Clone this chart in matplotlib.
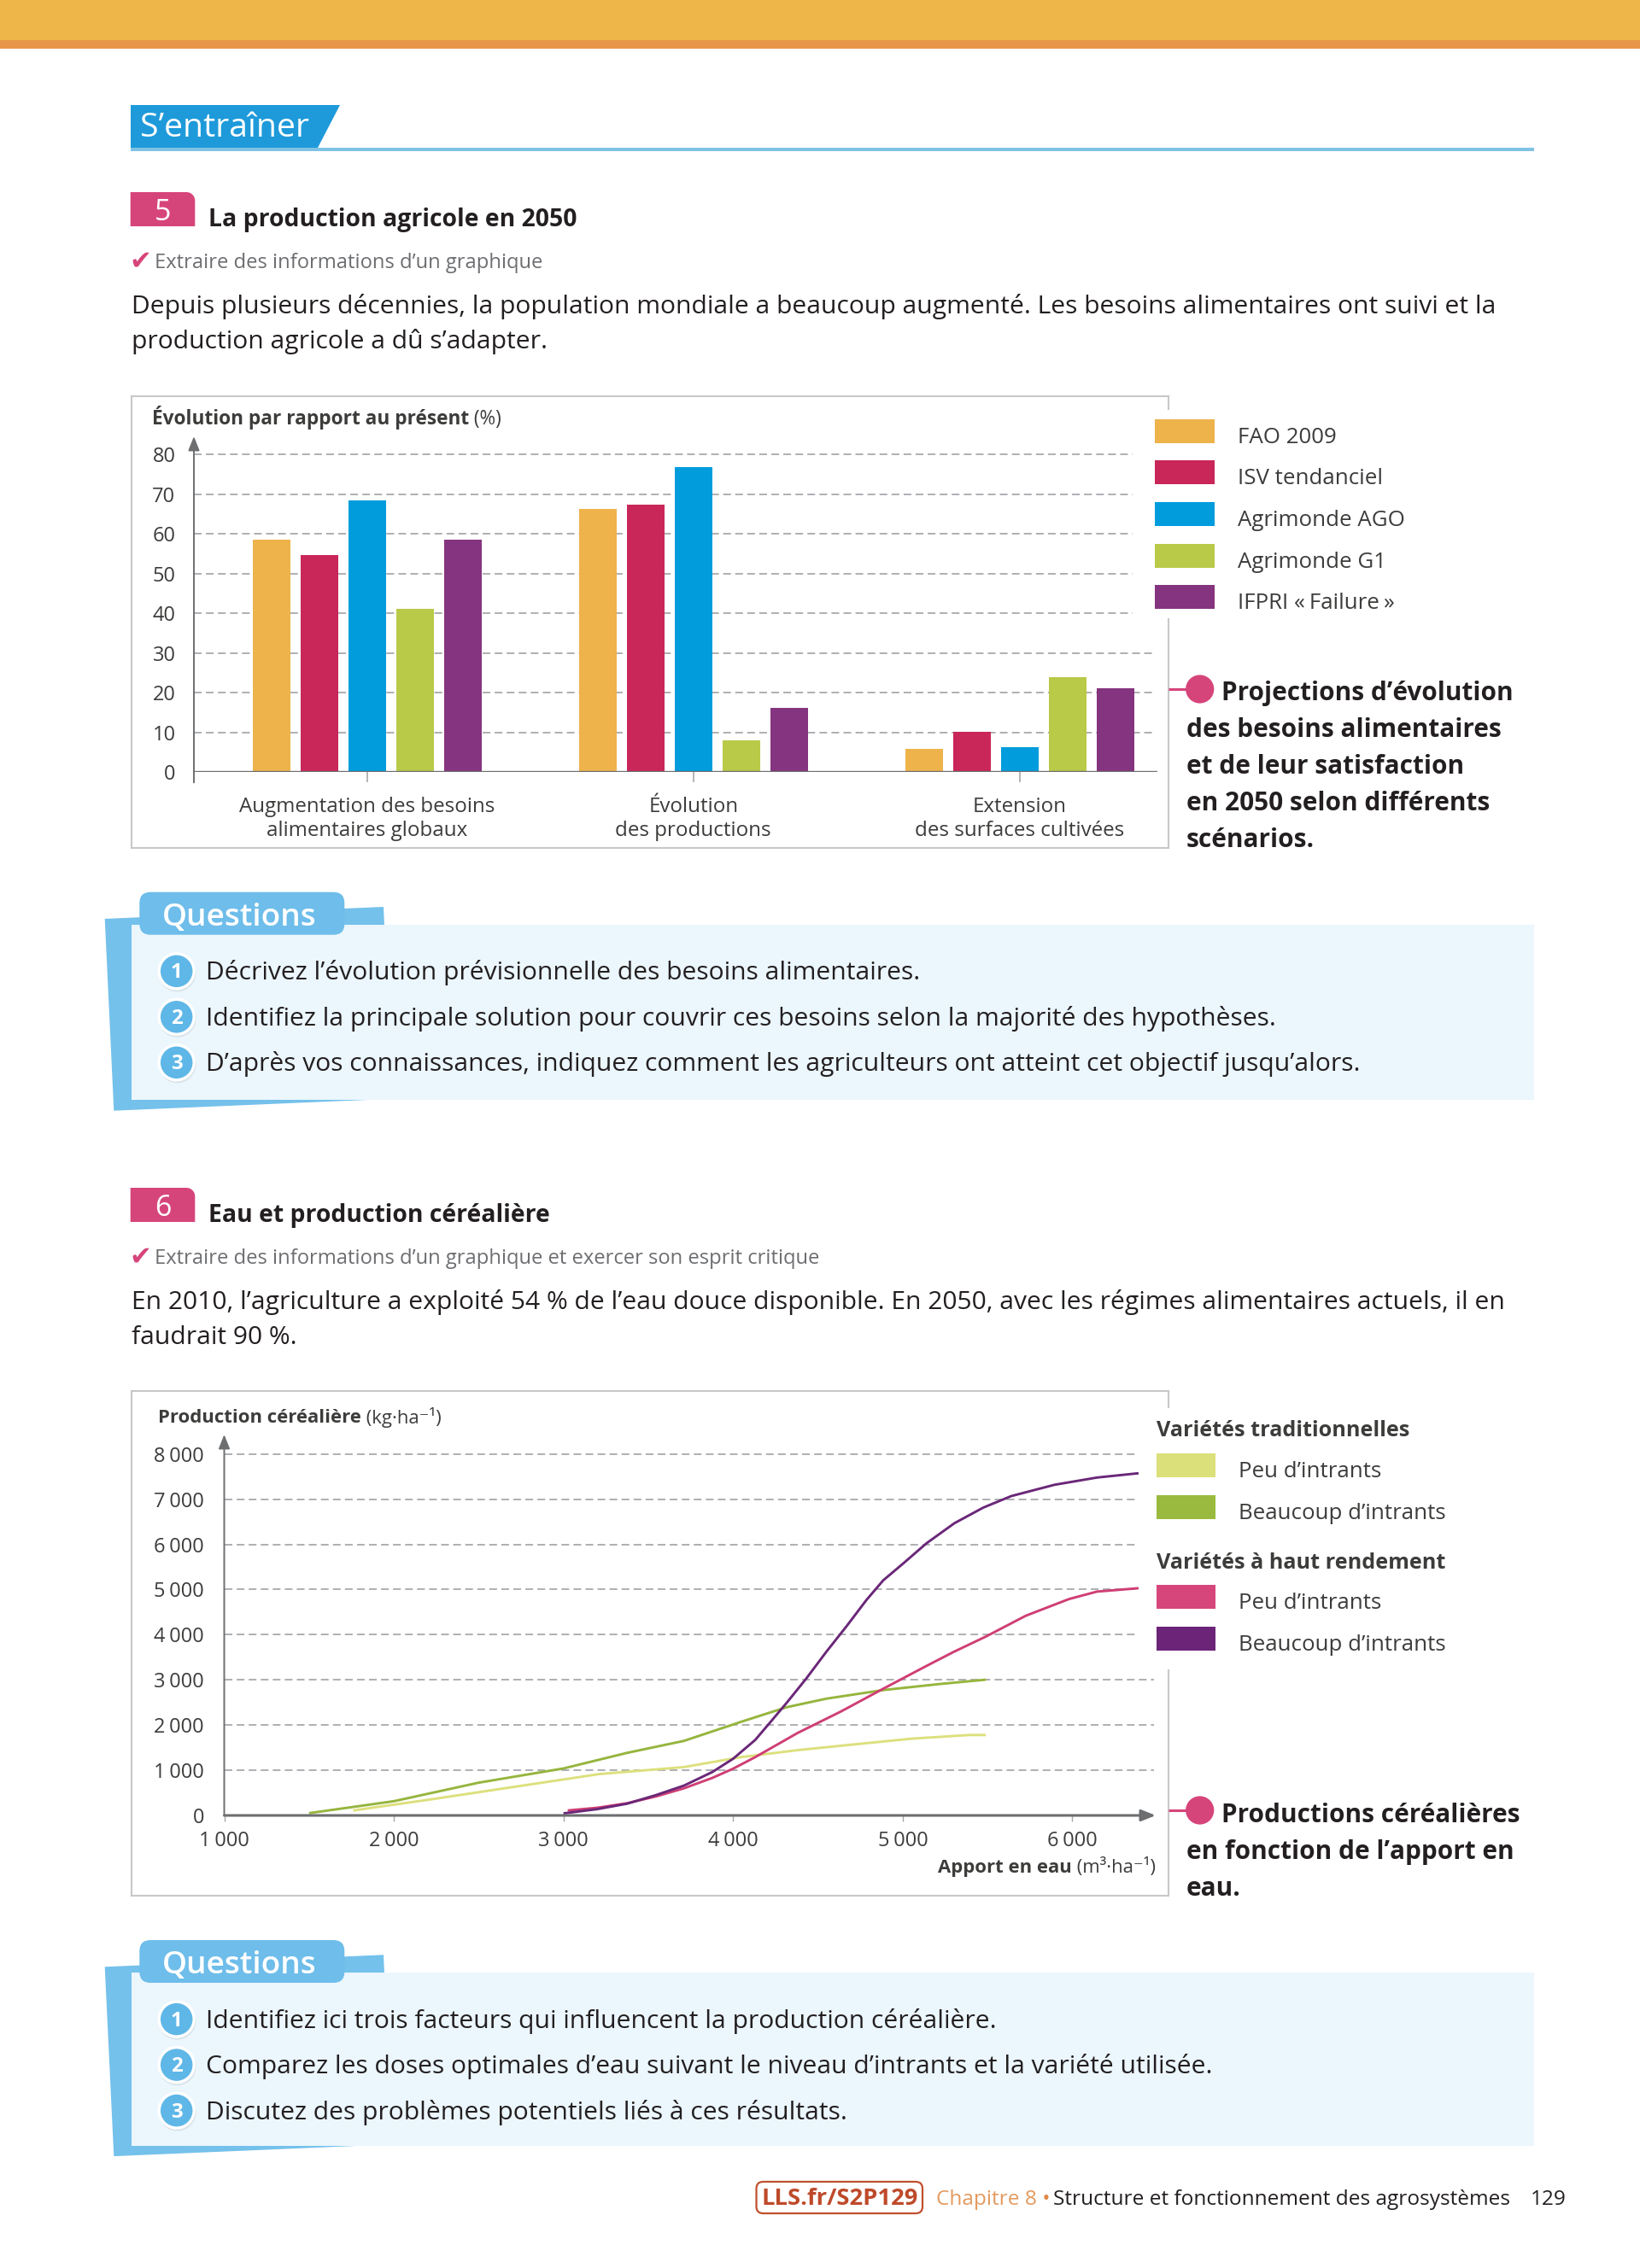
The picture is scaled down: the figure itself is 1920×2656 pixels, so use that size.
import numpy as np
import matplotlib.pyplot as plt
from matplotlib.patches import Rectangle, Polygon, Circle, FancyBboxPatch

plt.rcParams['font.family'] = ['Open Sans', 'DejaVu Sans']

W, H = 1920, 2656
DARK = '#231F20'
GREY = '#3C3C3B'
PINK = '#D6457A'
AXIS = '#6D6E70'
GRID = '#A7A9AC'

# ---- exercise 5 : bar chart data
groups = ['Augmentation des besoins\nalimentaires globaux',
          'Évolution\ndes productions',
          'Extension\ndes surfaces cultivées']
scenarios = ['FAO 2009', 'ISV tendanciel', 'Agrimonde AGO', 'Agrimonde G1',
             'IFPRI «\u202fFailure\u202f»']
fao_2009 = [58.5, 66.3, 5.8]
isv_tendanciel = [54.7, 67.3, 10.1]
agrimonde_ago = [68.4, 76.8, 6.3]
agrimonde_g1 = [41.2, 8.0, 24.0]
ifpri_failure = [58.5, 16.2, 21.1]
bar_colors = ['#EEB34B', '#C92659', '#009CDC', '#B9C948', '#85347F']
y5_ticks = [0, 10, 20, 30, 40, 50, 60, 70, 80]

# ---- exercise 6 : curves data (apport en eau, production)
trad_peu_x = [1760, 2200, 2705, 3210, 3710, 4045, 4380, 4720, 5055, 5390, 5490]
trad_peu_y = [110, 345, 630, 915, 1070, 1290, 1445, 1575, 1700, 1780, 1780]
trad_bcp_x = [1500, 2000, 2500, 3000, 3375, 3710, 4045, 4315, 4550, 4885, 5220, 5490]
trad_bcp_y = [50, 315, 725, 1040, 1385, 1650, 2070, 2395, 2585, 2775, 2910, 3005]
hr_peu_x = [3025, 3200, 3375, 3545, 3710, 3877, 4000, 4130, 4380, 4635, 4885, 5140,
            5300, 5490, 5725, 5980, 6145, 6390]
hr_peu_y = [110, 170, 270, 420, 600, 830, 1035, 1290, 1825, 2300, 2805, 3310,
            3620, 3960, 4420, 4790, 4955, 5030]
hr_bcp_x = [3000, 3200, 3375, 3545, 3710, 3877, 4000, 4130, 4215, 4315, 4430, 4550,
            4670, 4785, 4885, 5005, 5140, 5305, 5475, 5640, 5895, 6145, 6390]
hr_bcp_y = [45, 140, 260, 450, 660, 960, 1255, 1670, 2045, 2490, 3025, 3625,
            4195, 4765, 5205, 5585, 6025, 6470, 6815, 7070, 7320, 7480, 7575]
curve_names = ['Peu d’intrants', 'Beaucoup d’intrants', 'Peu d’intrants', 'Beaucoup d’intrants']
curve_colors = ['#DDE07D', '#96B53E', '#CF3E74', '#6A2778']
legend6_colors = ['#DCE07A', '#99BA3E', '#D6467B', '#6C2479']
x6_ticks = [1000, 2000, 3000, 4000, 5000, 6000]
y6_ticks = [0, 1000, 2000, 3000, 4000, 5000, 6000, 7000, 8000]

# ---- texts
para5 = ['Depuis plusieurs décennies, la population mondiale a beaucoup augmenté. Les besoins alimentaires ont suivi et la',
         'production agricole a dû s’adapter.']
para6 = ['En 2010, l’agriculture a exploité 54 % de l’eau douce disponible. En 2050, avec les régimes alimentaires actuels, il en',
         'faudrait 90 %.']
questions5 = ['Décrivez l’évolution prévisionnelle des besoins alimentaires.',
              'Identifiez la principale solution pour couvrir ces besoins selon la majorité des hypothèses.',
              'D’après vos connaissances, indiquez comment les agriculteurs ont atteint cet objectif jusqu’alors.']
questions6 = ['Identifiez ici trois facteurs qui influencent la production céréalière.',
              'Comparez les doses optimales d’eau suivant le niveau d’intrants et la variété utilisée.',
              'Discutez des problèmes potentiels liés à ces résultats.']
caption5 = ['Projections d’évolution', 'des besoins alimentaires', 'et de leur satisfaction',
            'en 2050 selon différents', 'scénarios.']
caption6 = ['Productions céréalières', 'en fonction de l’apport en', 'eau.']

fig = plt.figure(figsize=(W / 100, H / 100), dpi=100)
page = fig.add_axes([0, 0, 1, 1])
page.set_xlim(0, W)
page.set_ylim(H, 0)
page.axis('off')
renderer = fig.canvas.get_renderer()


def fitted(s, w, size=20, **kw):
    t = page.text(0, 0, s, fontsize=size, **kw)
    bw = t.get_window_extent(renderer).width
    t.remove()
    return size * w / bw


def txt(x, y, s, size, **kw):
    kw.setdefault('va', 'baseline')
    kw.setdefault('color', DARK)
    return page.text(x, y, s, fontsize=size, **kw)


def run(x, y, parts, size, right=False):
    # parts : (text, weight, color)
    if right:
        tot = 0
        for s, wt, col in parts:
            t = txt(0, y, s, size, fontweight=wt)
            tot += t.get_window_extent(renderer).width
            t.remove()
        x -= tot
    for s, wt, col in parts:
        t = txt(x, y, s, size, fontweight=wt, color=col)
        x += t.get_window_extent(renderer).width
    return x


def px_axes(x0, y0, x1, y1):
    return fig.add_axes([x0 / W, 1 - y1 / H, (x1 - x0) / W, (y1 - y0) / H])


# sizes fitted on the reference widths
s_tab = fitted('S’entraîner', 198)
s_title = fitted('La production agricole en 2050', 431, fontweight='bold')
s_skill = fitted('Extraire des informations d’un graphique', 452)
s_para = fitted(para5[0], 1591)
s_ctitle = fitted('Évolution par rapport au présent', 369, fontweight='bold')
s_leg = fitted('Agrimonde AGO', 195)
s_cap = fitted(caption5[0], 340, fontweight='bold')
s_cat = fitted('Augmentation des besoins', 298)
s_q = fitted(questions5[2], 1349)
s_qhead = fitted('Questions', 181, fontweight='semibold')
s_c2title = fitted('Production céréalière', 237, fontweight='bold')
s_leg2h = fitted('Variétés traditionnelles', 297, fontweight='bold')
s_foot = fitted('Structure et fonctionnement des agrosystèmes', 533)
s_lls = fitted('LLS.fr/S2P129', 183, fontweight='bold')
s_tick = 17

# ---- page header
page.add_patch(Rectangle((0, 0), W, 47, color='#EEB548', lw=0))
page.add_patch(Rectangle((0, 47), W, 10, color='#E8974A', lw=0))
page.add_patch(Polygon([(153, 123), (398, 123), (372, 173), (153, 173)], color='#1E9ADA', lw=0))
page.add_patch(Rectangle((153, 172.5), 1796 - 153, 4.5, color='#80C2E4', lw=0))
txt(164, 160, 'S’entraîner', s_tab, color='white')


def section(dy, num, title, skill, para):
    x0, x1, y0 = 152.7, 228.3, 225 + dy
    r = 10
    ang = np.linspace(-np.pi / 2, 0, 12)
    arc = [(x1 - r + r * np.cos(a), y0 + r + r * np.sin(a)) for a in ang]
    page.add_patch(Polygon([(x0, y0)] + arc + [(x1, y0 + 40), (x0, y0 + 40)], color=PINK, lw=0))
    txt(190.5, 257.5 + dy, num, s_title * 1.2, color='white', ha='center', fontweight='medium')
    txt(244, 265 + dy, title, s_title, fontweight='bold')
    txt(151, 314.5 + dy, '✔', s_skill * 1.3, color=PINK, family=['DejaVu Sans'])
    txt(181, 313.5 + dy, skill, s_skill, color='#6D6E71')
    for i, line in enumerate(para):
        txt(154, 366.7 + dy + i * 41.7, line, s_para)


def box(x0, y0, x1, y1, gap0, gap1):
    kw = dict(color='#C8C8C8', lw=1.5)
    page.plot([x0, x1], [y0, y0], **kw)
    page.plot([x0, x1], [y1, y1], **kw)
    page.plot([x0, x0], [y0, y1], **kw)
    page.plot([x1, x1], [y0, gap0], **kw)
    page.plot([x1, x1], [gap1, y1], **kw)


def caption(y, lines, baseline0):
    page.plot([1368, 1395], [y, y], color=PINK, lw=2.2, solid_capstyle='butt')
    page.add_patch(Circle((1404.7, y), 16.6, color=PINK, lw=0))
    for i, line in enumerate(lines):
        txt(1430 if i == 0 else 1389, baseline0 + i * 43.2, line, s_cap, fontweight='bold')


def questions_box(top, bot, items):
    page.add_patch(Polygon([(122.7, top - 6.7), (449, top - 20.7), (459, bot - 1.5), (133.3, bot + 12.4)],
                           color='#74C1EB', lw=0))
    page.add_patch(Rectangle((154, top), 1796 - 154, bot - top, color='#EBF6FD', lw=0))
    page.add_patch(FancyBboxPatch((163.3 + 13, top - 38 + 13), 240 - 26, 50 - 26,
                                  boxstyle='round,pad=13', color='#6EBDEA', lw=0))
    txt(190, top + 1, 'Questions', s_qhead, color='white', fontweight='semibold')
    for i, q in enumerate(items):
        cy = top + 54.6 + i * 53.5
        page.add_patch(Circle((207.5, cy + 2), 22, color='#000000', alpha=0.08, lw=0))
        page.add_patch(Circle((206.7, cy), 20.5, facecolor='#5FB7E7', edgecolor='white', lw=2.5))
        txt(206.7, cy + 8, str(i + 1), s_q * 0.8, color='white', ha='center', fontweight='bold')
        txt(240.7, cy + 10, q, s_q)


# =============== exercise 5
section(0, '5', 'La production agricole en 2050', 'Extraire des informations d’un graphique', para5)
box(154, 463.5, 1368, 993, 479, 725)
run(178, 497, [('Évolution par rapport au présent', 'bold', GREY), (' (%)', 'normal', GREY)], s_ctitle)

ax1 = px_axes(227, 511, 1355, 904.3)
ax1.patch.set_alpha(0)
x_left, x_right = -0.532, 2.423
ax1.set_xlim(x_left, x_right)
ax1.set_ylim(0, 84.6)
for s in ax1.spines.values():
    s.set_visible(False)
for v in y5_ticks[1:]:
    xmax = (1326 - 227) / 1128 if v >= 40 else (1352 - 227) / 1128
    ax1.axhline(v, 0, xmax, color=GRID, lw=1.3, ls=(0, (5, 2.8)), zorder=1)
series5 = [fao_2009, isv_tendanciel, agrimonde_ago, agrimonde_g1, ifpri_failure]
xs = np.arange(len(groups))
step, bw = 56 / 381.7, 44 / 381.7
for j, (vals, col) in enumerate(zip(series5, bar_colors)):
    ax1.bar(xs + (j - 2) * step, vals, bw, color=col, zorder=3, lw=0)
ax1.axhline(0, color=AXIS, lw=2.4, zorder=4)
ax1.annotate('', xy=(x_left, 84.6), xytext=(x_left, -2.6), annotation_clip=False,
             arrowprops=dict(arrowstyle='-|>,head_length=0.5,head_width=0.2', mutation_scale=20,
                             color=AXIS, lw=1.4, shrinkA=0, shrinkB=0))
ax1.set_yticks(y5_ticks)
ax1.set_yticklabels([str(v) for v in y5_ticks])
ax1.tick_params(axis='y', length=0, pad=15.5, labelsize=s_tick, labelcolor=GREY)
ax1.set_xticks(xs)
ax1.set_xticklabels(groups, fontsize=s_cat, linespacing=1.25, color=GREY)
ax1.tick_params(axis='x', length=8.6, width=1.2, color='#A8A8A8', pad=12)

for i, (name, col) in enumerate(zip(scenarios, bar_colors)):
    cy = 504.8 + i * 48.6
    page.add_patch(Rectangle((1352, cy - 14), 70, 28, color=col, lw=0))
    txt(1449, cy + 14, name, s_leg, color=GREY)
caption(807, caption5, 819.6)
questions_box(1082.7, 1288.3, questions5)

# =============== exercise 6
section(1166, '6', 'Eau et production céréalière',
        'Extraire des informations d’un graphique et exercer son esprit critique', para6)
box(154, 1629, 1368, 2220, 1648, 1956)
run(185, 1666.5, [('Production céréalière', 'bold', GREY), (' (kg·ha⁻¹)', 'normal', GREY)], s_c2title)

ax2 = px_axes(262.5, 1680, 1353, 2126)
ax2.patch.set_alpha(0)
ax2.set_xlim(1000, 6491)
ax2.set_ylim(0, 8431)
for s in ax2.spines.values():
    s.set_visible(False)
for v in y6_ticks[1:]:
    xmax = (1331 - 262.5) / 1090.5 if v >= 4000 else (1351 - 262.5) / 1090.5
    ax2.axhline(v, 0, xmax, color=GRID, lw=1.3, ls=(0, (5, 2.8)), zorder=1)
curves = [(trad_peu_x, trad_peu_y), (trad_bcp_x, trad_bcp_y), (hr_peu_x, hr_peu_y), (hr_bcp_x, hr_bcp_y)]
for (cx, cyv), col in zip(curves, curve_colors):
    ax2.plot(cx, cyv, color=col, lw=2.1, zorder=3, solid_capstyle='butt', solid_joinstyle='round')
ax2.annotate('', xy=(6491, 0), xytext=(1000, 0), annotation_clip=False,
             arrowprops=dict(arrowstyle='-|>,head_length=0.5,head_width=0.2', mutation_scale=20,
                             color=AXIS, lw=2.2, shrinkA=0, shrinkB=0), zorder=4)
ax2.annotate('', xy=(1000, 8431), xytext=(1000, 0), annotation_clip=False,
             arrowprops=dict(arrowstyle='-|>,head_length=0.5,head_width=0.2', mutation_scale=20,
                             color=AXIS, lw=1.4, shrinkA=0, shrinkB=0))
ax2.set_xticks(x6_ticks)
ax2.set_xticklabels([f'{v // 1000}\u202f000' for v in x6_ticks], color=GREY)
ax2.tick_params(axis='x', length=5, width=1, color='#A8A8A8', pad=8, labelsize=s_tick)
ax2.set_yticks(y6_ticks)
ax2.set_yticklabels(['0'] + [f'{v // 1000}\u202f000' for v in y6_ticks[1:]], color=GREY)
ax2.tick_params(axis='y', length=0, pad=17, labelsize=s_tick)
run(1353, 2193, [('Apport en eau', 'bold', GREY), (' (m³·ha⁻¹)', 'normal', GREY)], s_c2title, right=True)

txt(1354, 1682.5, 'Variétés traditionnelles', s_leg2h, fontweight='bold', color=GREY)
txt(1354, 1837, 'Variétés à haut rendement', s_leg2h, fontweight='bold', color=GREY)
for name, col, cy in zip(curve_names, legend6_colors, [1716, 1765, 1870, 1919]):
    page.add_patch(Rectangle((1354, cy - 14), 69, 28, color=col, lw=0))
    txt(1450, cy + 14, name, s_leg, color=GREY)
caption(2120, caption6, 2134)
questions_box(2310, 2512.7, questions6)

# ---- footer
page.add_patch(FancyBboxPatch((885.5 + 8, 2555 + 8), 194.5 - 16, 37 - 16, boxstyle='round,pad=8',
                              facecolor='white', edgecolor='#C0502D', lw=1.6))
txt(982.7, 2582, 'LLS.fr/S2P129', s_lls, color='#BE4A2A', fontweight='bold', ha='center')
x = run(1096, 2582, [('Chapitre 8', 'normal', '#E39A5F'), (' • ', 'normal', '#E08A4A')], s_foot)
txt(1233, 2582, 'Structure et fonctionnement des agrosystèmes', s_foot)
txt(1792, 2582, '129', s_foot)

fig.savefig('out.png', dpi=100, facecolor='white')
